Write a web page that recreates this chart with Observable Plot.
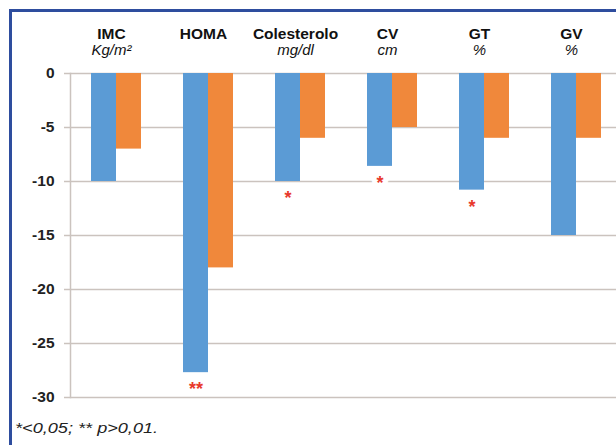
<!DOCTYPE html>
<html>
<head>
<meta charset="utf-8">
<script src="https://cdn.jsdelivr.net/npm/d3@7"></script>
<script src="https://cdn.jsdelivr.net/npm/@observablehq/plot@0.6"></script>
<style>
  html, body { margin: 0; padding: 0; background: #fff; overflow: hidden; }
  #wrap { position: relative; width: 616px; height: 445px; overflow: hidden; background: #fff;
          font-family: "Liberation Sans", Arial, sans-serif; }
  #chart { position: absolute; left: 0; top: 0; width: 616px; height: 410px; overflow: hidden; }
  #chart svg { max-width: none !important; background: transparent !important; }
  .bar-h { position: absolute; left: 9px; top: 9px; width: 607px; height: 3px; background: #2E4D9E; z-index: 2; }
  .bar-v { position: absolute; left: 9px; top: 9px; width: 3px; height: 436px; background: #2E4D9E; z-index: 2; }
  #note { position: absolute; left: 15px; top: 421px; font-size: 14.5px; line-height: 1;
          font-style: italic; color: #222; transform: scaleX(1.25); transform-origin: left top; white-space: nowrap; }
</style>
</head>
<body>
<div id="wrap">
  <div id="chart"></div>
  <div class="bar-h"></div>
  <div class="bar-v"></div>
  <div id="note"></div>
</div>
<script>
const categories = ["IMC", "HOMA", "Colesterolo", "CV", "GT", "GV"];
const units = ["Kg/m²", "", "mg/dl", "cm", "%", "%"];
const series = ["A", "B"];
const valuesA = [-10, -27.7, -10, -8.6, -10.8, -15];
const valuesB = [-7, -18, -6, -5, -6, -6];
const significance = ["", "**", "*", "*", "*", ""];
const yTicks = [0, -5, -10, -15, -20, -25, -30];
const footnote = "*<0,05; ** p>0,01.";

const rows = categories.flatMap((c, i) => [
  {cat: c, s: "A", v: valuesA[i]},
  {cat: c, s: "B", v: valuesB[i]}
]);
const stars = categories
  .map((c, i) => ({cat: c, s: "A", v: valuesA[i], m: significance[i]}))
  .filter(d => d.m);
const headers = categories.map((c, i) => ({cat: c, name: c, unit: units[i]}));

const gridColor = "#CBC3BE";

const chart = Plot.plot({
  width: 624,
  height: 410,
  marginLeft: 68,
  marginRight: 0,
  marginTop: 73,
  marginBottom: 13,
  style: {fontFamily: "'Liberation Sans', Arial, sans-serif", background: "transparent", maxWidth: "none"},
  fx: {domain: categories, padding: 0, axis: null, label: null},
  x: {domain: series, paddingInner: 0, paddingOuter: 0.782, axis: null, label: null},
  y: {domain: [-30, 0], axis: null, label: null},
  color: {domain: series, range: ["#5B9BD5", "#F0883B"]},
  marks: [
    Plot.gridY(yTicks, {stroke: gridColor, strokeOpacity: 1, strokeWidth: 1.5}),
    Plot.frame({anchor: "left", facetAnchor: "left", stroke: gridColor, strokeWidth: 1.5}),
    Plot.axisY(yTicks, {
      label: null,
      tickSize: 6, tickPadding: 10, stroke: gridColor, strokeWidth: 1.5,
      fill: "#222", fontSize: 15.5, fontWeight: "bold",
      tickFormat: d => String(d)
    }),
    Plot.barY(rows, {fx: "cat", x: "s", y: "v", fill: "s"}),
    Plot.text(stars, {
      fx: "cat", x: "s", y: "v", text: "m", dy: 17,
      fill: "#E8392B", fontSize: 18, fontWeight: "bold",
      stroke: "white", strokeWidth: 10, paintOrder: "stroke"
    }),
    Plot.text(headers, {
      fx: "cat", frameAnchor: "top", lineAnchor: "middle", text: "name", dy: -39, dx: -5,
      fontWeight: "bold", fontSize: 15.5, fill: "#111"
    }),
    Plot.text(headers, {
      fx: "cat", frameAnchor: "top", lineAnchor: "middle", text: "unit", dy: -23, dx: -5,
      fontStyle: "italic", fontSize: 15, fill: "#111"
    })
  ]
});
document.getElementById("chart").append(chart);
document.getElementById("note").textContent = footnote;
</script>
</body>
</html>
